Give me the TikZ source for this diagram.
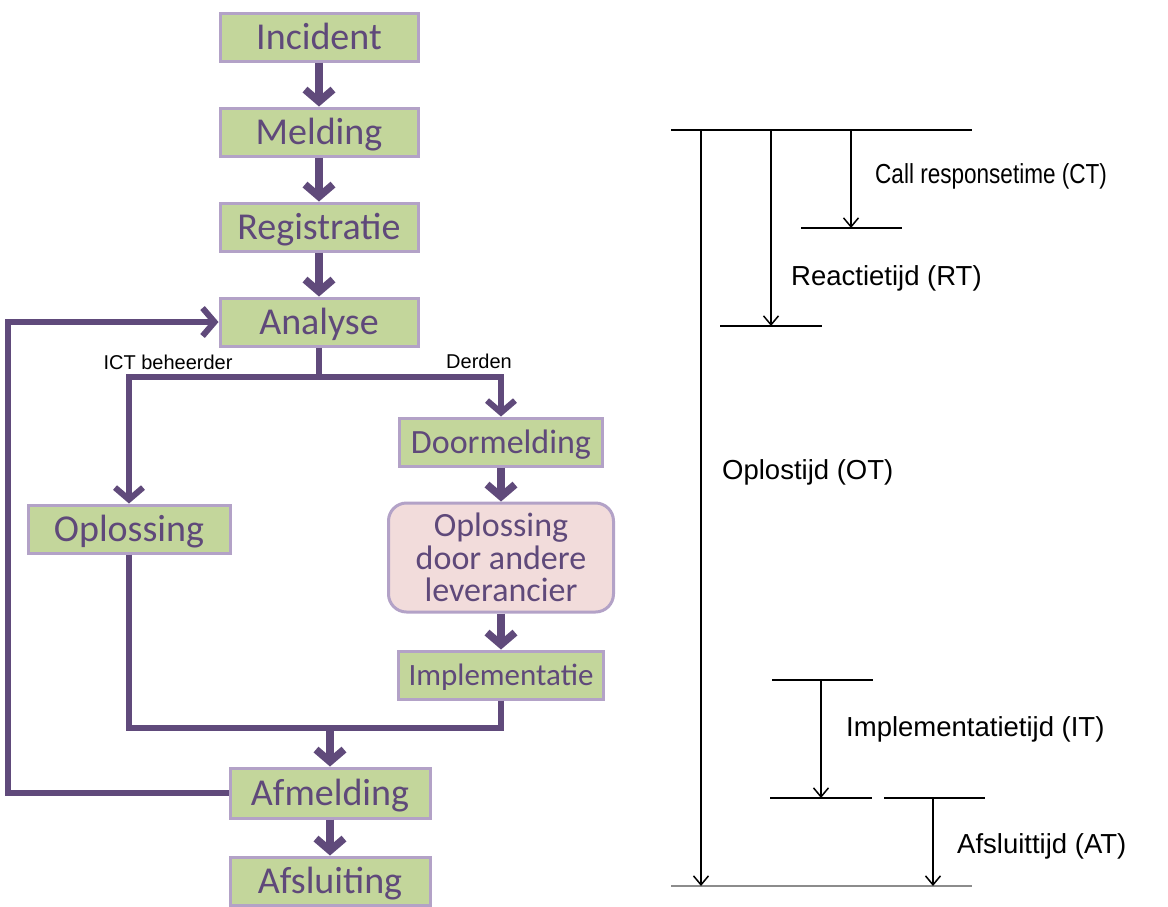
\documentclass[tikz,border=0pt]{standalone}
\usepackage{fontspec}
\setmainfont{Carlito}
\newfontfamily\arialf{Liberation Sans}
\usetikzlibrary{arrows.meta}
\definecolor{boxgreen}{HTML}{C3D69B}
\definecolor{boxborder}{HTML}{B3A2C7}
\definecolor{flowpurple}{HTML}{604A7B}
\definecolor{txtpurple}{HTML}{5F497A}
\definecolor{boxpink}{HTML}{F2DCDB}
\definecolor{basegray}{HTML}{8C8C8C}
\begin{document}
\begin{tikzpicture}[x=1pt,y=-1pt,
  gbox/.style={draw=boxborder, line width=3pt, fill=boxgreen, text=txtpurple,
    minimum width=198pt, minimum height=48pt, inner sep=0pt,
    text height=24pt, text depth=0pt, font=\fontsize{38}{40}\selectfont},
  pbox/.style={draw=boxborder, line width=3pt, fill=boxpink, text=txtpurple,
    rounded corners=18pt, minimum width=225pt, minimum height=109pt, inner sep=0pt,
    align=center, font=\fontsize{34}{32.5}\selectfont},
  conn/.style={draw=flowpurple, line width=6pt, line join=miter},
  flow/.style={conn, -{Straight Barb[length=12pt,width=28pt]}},
  shortflow/.style={flow, line width=7.5pt},
  brlabel/.style={font=\arialf\fontsize{20}{22}\selectfont, text=black, inner sep=0pt},
  tlabel/.style={font=\arialf\fontsize{27.5}{30}\selectfont, text=black, inner sep=0pt, anchor=base west},
  tline/.style={draw=black, line width=1.5pt},
  tarrow/.style={tline, -{Straight Barb[length=9pt,width=15pt]}}
]
\useasboundingbox (0,0) rectangle (1168,906);

% ---------- flowchart ----------
\node[gbox] (incident) at (319,37) {Incident};
\node[gbox] (melding) at (319,132) {Melding};
\node[gbox] (registratie) at (319,227) {Registratie};
\node[gbox] (analyse) at (319,322) {Analyse};
\node[gbox, minimum width=203pt, text height=22pt, font=\fontsize{34}{36}\selectfont] (doormelding) at (501,442) {Doormelding};
\node[gbox, minimum width=202pt] (oplossing) at (129,529) {Oplossing};
\node[pbox] (andere) at (501,557.5) {Oplossing\\door andere\\leverancier};
\node[gbox, minimum width=205pt, text height=20pt, font=\fontsize{31}{33}\selectfont] (impl) at (501,675) {Implementatie};
\node[gbox, minimum width=200pt, minimum height=50pt] (afmelding) at (330,793) {Afmelding};
\node[gbox, minimum width=200pt] (afsluiting) at (330,881) {Afsluiting};

\node[brlabel] (ict) at (168,362) {ICT beheerder};
\node[brlabel] (derden) at (479,361) {Derden};

\coordinate (split) at (319,377);
\coordinate (merge) at (330,728);
\coordinate (loopc) at (8,793);

\draw[shortflow] (incident) -- (melding);
\draw[shortflow] (melding) -- (registratie);
\draw[shortflow] (registratie) -- (analyse);
\draw[conn] (analyse.south) -- (split);
\draw[flow] (split) -| (oplossing.north);
\draw[flow] (split) -| (doormelding.north);
\draw[shortflow] (doormelding) -- (andere);
\draw[shortflow] (andere) -- (impl);
\draw[conn] (oplossing.south) |- (merge);
\draw[conn] (impl.south) |- (merge);
\draw[shortflow] (merge) -- (afmelding.north);
\draw[shortflow] (afmelding) -- (afsluiting);
\draw[flow] (afmelding.west) -- (loopc) |- (analyse.west);

% ---------- timeline ----------
\coordinate (topL) at (671,130);
\coordinate (topR) at (972,130);
\coordinate (botL) at (671,886);
\coordinate (botR) at (972,886);
\coordinate (otS) at (701,130);
\coordinate (otE) at (701,886);
\coordinate (rtS) at (771,130);
\coordinate (rtE) at (771,326);
\coordinate (rtbL) at (720,326);
\coordinate (rtbR) at (822,326);
\coordinate (ctS) at (851,130);
\coordinate (ctE) at (851,228);
\coordinate (ctbL) at (801,228);
\coordinate (ctbR) at (902,228);
\coordinate (itaL) at (772,680);
\coordinate (itaR) at (873,680);
\coordinate (itS) at (821,680);
\coordinate (itE) at (821,798);
\coordinate (itbL) at (770,798);
\coordinate (itbR) at (872,798);
\coordinate (ataL) at (884,798);
\coordinate (ataR) at (985,798);
\coordinate (atS) at (933,798);
\coordinate (atE) at (933,886);

\draw[tline] (topL) -- (topR);
\draw[tline, draw=basegray] (botL) -- (botR);
\draw[tarrow] (otS) -- (otE);
\draw[tarrow] (rtS) -- (rtE);
\draw[tline] (rtbL) -- (rtbR);
\draw[tarrow] (ctS) -- (ctE);
\draw[tline] (ctbL) -- (ctbR);
\draw[tline] (itaL) -- (itaR);
\draw[tarrow] (itS) -- (itE);
\draw[tline] (itbL) -- (itbR);
\draw[tline] (ataL) -- (ataR);
\draw[tarrow] (atS) -- (atE);

\node[tlabel] (ctl) at (875,183) {\scalebox{0.82}[1]{Call responsetime (CT)}};
\node[tlabel] (rtl) at (791,285) {Reactietijd (RT)};
\node[tlabel] (otl) at (722,479) {Oplostijd (OT)};
\node[tlabel] (itl) at (846,736) {Implementatietijd (IT)};
\node[tlabel] (atl) at (957,853) {Afsluittijd (AT)};
\end{tikzpicture}
\end{document}
